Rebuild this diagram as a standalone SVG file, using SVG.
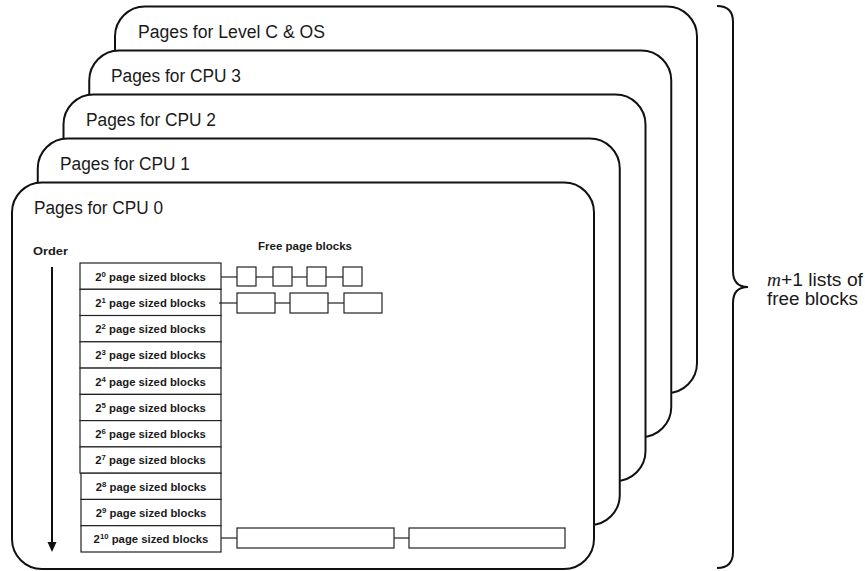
<svg xmlns="http://www.w3.org/2000/svg" width="865" height="571" viewBox="0 0 865 571">
<style>
.card{fill:#fff;stroke:#111;stroke-width:2}
.title{font-family:"Liberation Sans",Arial,sans-serif;font-size:18px;fill:#1a1a1a}
.small{font-family:"Liberation Sans",Arial,sans-serif;font-size:10.8px;font-weight:bold;fill:#1a1a1a}
.rt{font-family:"Liberation Sans",Arial,sans-serif;font-size:11.3px;font-weight:bold;fill:#1a1a1a}
.row{fill:#fff;stroke:#222;stroke-width:1.2}
.blk{fill:#fff;stroke:#222;stroke-width:1.2}
.link{stroke:#222;stroke-width:1.2;fill:none}
.sup{font-size:7.8px}
.brace{fill:none;stroke:#111;stroke-width:2}
.note{font-family:"Liberation Sans",Arial,sans-serif;font-size:18px;fill:#1a1a1a}
</style>
<rect width="865" height="571" fill="#fff"/>

<g id="card-levelc">
<rect class="card" x="115" y="6.5" width="582" height="386.5" rx="30" ry="30"/>
<text class="title" x="138" y="38" textLength="187" lengthAdjust="spacingAndGlyphs">Pages for Level C &amp; OS</text>
</g>
<g id="card-cpu3">
<rect class="card" x="89.25" y="50.5" width="582" height="386.5" rx="30" ry="30"/>
<text class="title" x="111" y="82" textLength="130" lengthAdjust="spacingAndGlyphs">Pages for CPU 3</text>
</g>
<g id="card-cpu2">
<rect class="card" x="63.5" y="94.5" width="582" height="386.5" rx="30" ry="30"/>
<text class="title" x="86" y="126" textLength="130" lengthAdjust="spacingAndGlyphs">Pages for CPU 2</text>
</g>
<g id="card-cpu1">
<rect class="card" x="37.75" y="138.5" width="582" height="386.5" rx="30" ry="30"/>
<text class="title" x="60" y="170" textLength="130" lengthAdjust="spacingAndGlyphs">Pages for CPU 1</text>
</g>
<g id="card-cpu0">
<rect class="card" x="12" y="182.5" width="582" height="386.5" rx="30" ry="30"/>
<text class="title" x="34" y="214" textLength="129" lengthAdjust="spacingAndGlyphs">Pages for CPU 0</text>
</g>

<g id="order-axis">
<text class="small" x="33" y="255" textLength="35" lengthAdjust="spacingAndGlyphs">Order</text>
<line x1="52" y1="267" x2="52" y2="543" stroke="#111" stroke-width="2"/>
<path d="M47.5,542 L56.5,542 L52,552 z" fill="#111"/>
</g>
<text id="free-label" class="small" x="258" y="250" textLength="94" lengthAdjust="spacingAndGlyphs">Free page blocks</text>

<g id="order-table">
<g id="row0"><rect class="row" x="80" y="263" width="141" height="26.3"/><text class="rt" x="150.5" y="280.5" text-anchor="middle">2<tspan class="sup" dy="-4">0</tspan><tspan dy="4"> page sized blocks</tspan></text></g>
<g id="row1"><rect class="row" x="80" y="289.3" width="141" height="26.3"/><text class="rt" x="150.5" y="306.8" text-anchor="middle">2<tspan class="sup" dy="-4">1</tspan><tspan dy="4"> page sized blocks</tspan></text></g>
<g id="row2"><rect class="row" x="80" y="315.5" width="141" height="26.3"/><text class="rt" x="150.5" y="333" text-anchor="middle">2<tspan class="sup" dy="-4">2</tspan><tspan dy="4"> page sized blocks</tspan></text></g>
<g id="row3"><rect class="row" x="80" y="341.8" width="141" height="26.3"/><text class="rt" x="150.5" y="359.3" text-anchor="middle">2<tspan class="sup" dy="-4">3</tspan><tspan dy="4"> page sized blocks</tspan></text></g>
<g id="row4"><rect class="row" x="80" y="368.1" width="141" height="26.3"/><text class="rt" x="150.5" y="385.6" text-anchor="middle">2<tspan class="sup" dy="-4">4</tspan><tspan dy="4"> page sized blocks</tspan></text></g>
<g id="row5"><rect class="row" x="80" y="394.4" width="141" height="26.3"/><text class="rt" x="150.5" y="411.9" text-anchor="middle">2<tspan class="sup" dy="-4">5</tspan><tspan dy="4"> page sized blocks</tspan></text></g>
<g id="row6"><rect class="row" x="80" y="420.6" width="141" height="26.3"/><text class="rt" x="150.5" y="438.1" text-anchor="middle">2<tspan class="sup" dy="-4">6</tspan><tspan dy="4"> page sized blocks</tspan></text></g>
<g id="row7"><rect class="row" x="80" y="446.9" width="141" height="26.3"/><text class="rt" x="150.5" y="464.4" text-anchor="middle">2<tspan class="sup" dy="-4">7</tspan><tspan dy="4"> page sized blocks</tspan></text></g>
<g id="row8"><rect class="row" x="81" y="473.2" width="140" height="26.3"/><text class="rt" x="151" y="490.7" text-anchor="middle">2<tspan class="sup" dy="-4">8</tspan><tspan dy="4"> page sized blocks</tspan></text></g>
<g id="row9"><rect class="row" x="81" y="499.4" width="140" height="26.3"/><text class="rt" x="151" y="516.9" text-anchor="middle">2<tspan class="sup" dy="-4">9</tspan><tspan dy="4"> page sized blocks</tspan></text></g>
<g id="row10"><rect class="row" x="81" y="525.7" width="140" height="26.3"/><text class="rt" x="151" y="543.2" text-anchor="middle">2<tspan class="sup" dy="-4">10</tspan><tspan dy="4"> page sized blocks</tspan></text></g>
</g>

<g id="free-blocks">
<rect id="b0a" class="blk" x="237" y="267" width="19" height="19"/>
<rect id="b0b" class="blk" x="273" y="267" width="19" height="19"/>
<rect id="b0c" class="blk" x="307" y="267" width="19" height="19"/>
<rect id="b0d" class="blk" x="343" y="267" width="19" height="19"/>
<rect id="b1a" class="blk" x="237" y="293" width="38" height="20"/>
<rect id="b1b" class="blk" x="290" y="293" width="38" height="20"/>
<rect id="b1c" class="blk" x="344" y="293" width="38" height="20"/>
<rect id="b10a" class="blk" x="237" y="528" width="157" height="20"/>
<rect id="b10b" class="blk" x="409" y="528" width="156" height="20"/>
</g>

<g id="connectors">
<line class="link" x1="221" y1="277" x2="237" y2="277"/>
<line class="link" x1="256" y1="277" x2="273" y2="277"/>
<line class="link" x1="292" y1="277" x2="307" y2="277"/>
<line class="link" x1="326" y1="277" x2="343" y2="277"/>
<line class="link" x1="219" y1="303" x2="237" y2="303"/>
<line class="link" x1="275" y1="303" x2="290" y2="303"/>
<line class="link" x1="328" y1="303" x2="344" y2="303"/>
<line class="link" x1="221" y1="538" x2="237" y2="538"/>
<line class="link" x1="394" y1="538" x2="409" y2="538"/>
</g>

<g id="brace-note">
<path class="brace" d="M717,6 Q733,6 733,22 L733,271 Q733,287 748,287 Q733,287 733,303 L733,552 Q733,568 717,568"/>
<text class="note" x="767" y="286" textLength="96" lengthAdjust="spacingAndGlyphs"><tspan font-family="'Liberation Serif',serif" font-style="italic">m</tspan>+1 lists of</text>
<text class="note" x="767" y="305" textLength="91" lengthAdjust="spacingAndGlyphs">free blocks</text>
</g>
</svg>
